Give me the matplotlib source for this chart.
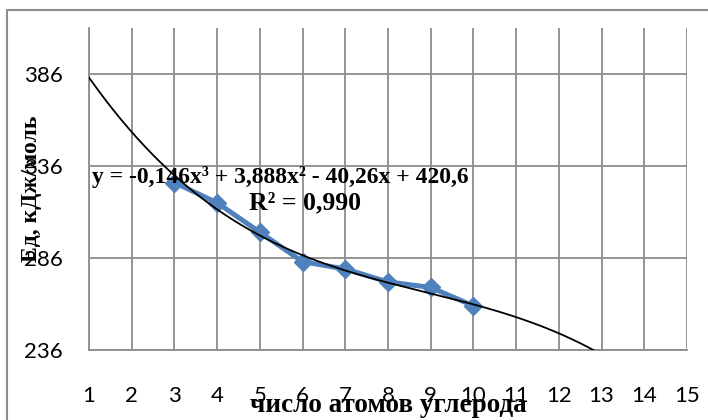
import matplotlib.pyplot as plt
import numpy as np
from matplotlib.patches import Rectangle

# data
carbon_atoms = [3, 4, 5, 6, 7, 8, 9, 10]
energy = [327, 316, 300, 284, 280, 273, 270, 260]

# trendline coefficients as printed on the chart (cubic -> constant)
trend_coef = [-0.146, 3.888, -40.26, 420.6]
trend_label = "y = -0,146x³ + 3,888x² - 40,26x + 420,6"
r2_label = "R² = 0,990"

x_ticks = list(range(1, 16))
y_ticks = [236, 286, 336, 386]

W, H = 708, 420
fig = plt.figure(figsize=(W / 100, H / 100), dpi=100)
ax = fig.add_axes([89 / W, (H - 350) / H, (687 - 89) / W, (350 - 28) / H])

grid_col = "#8c8c8c"

xs = np.linspace(1, 15, 300)
ax.plot(xs, np.polyval(trend_coef, xs), color="black", lw=1.3, zorder=3)
ax.plot(carbon_atoms, energy, color="#4f81bd", lw=3.6, marker="D",
        markersize=9, zorder=2)

ax.set_xlim(1, 15)
ax.set_ylim(236, 411)
ax.set_xticks(x_ticks)
ax.set_yticks(y_ticks)
ax.grid(True, color=grid_col, lw=1.3)
ax.set_axisbelow(True)
for s in ["top", "right"]:
    ax.spines[s].set_visible(False)
for s in ["left", "bottom"]:
    ax.spines[s].set_color(grid_col)
    ax.spines[s].set_linewidth(1.3)

ax.tick_params(axis="both", length=0, labelsize=16)
ax.tick_params(axis="y", pad=19)
ax.tick_params(axis="x", pad=26)
for lab in ax.get_xticklabels() + ax.get_yticklabels():
    lab.set_fontfamily("Lato")

serif = {"family": "Liberation Serif", "weight": "bold"}
ax.set_xlabel("число атомов углерода", fontsize=19.5, **serif)
ax.set_ylabel("Eд, кДж/моль", fontsize=17, **serif)
ax.xaxis.set_label_coords(0.5, -0.134)
ax.yaxis.set_label_coords(-0.079, 0.5)

# trendline label
ax.text(5.49, 330, trend_label, ha="center", va="center", fontsize=17,
        zorder=4, **serif)
ax.text(6.06, 315.9, r2_label, ha="center", va="center", fontsize=18.5,
        zorder=4, **serif)

fig.patches.append(Rectangle((7 / W, -0.1), 1.2, 1 - 10 / H + 0.1,
                             transform=fig.transFigure, fill=False,
                             edgecolor=grid_col, lw=1.5))

fig.savefig("out.png", dpi=100)
